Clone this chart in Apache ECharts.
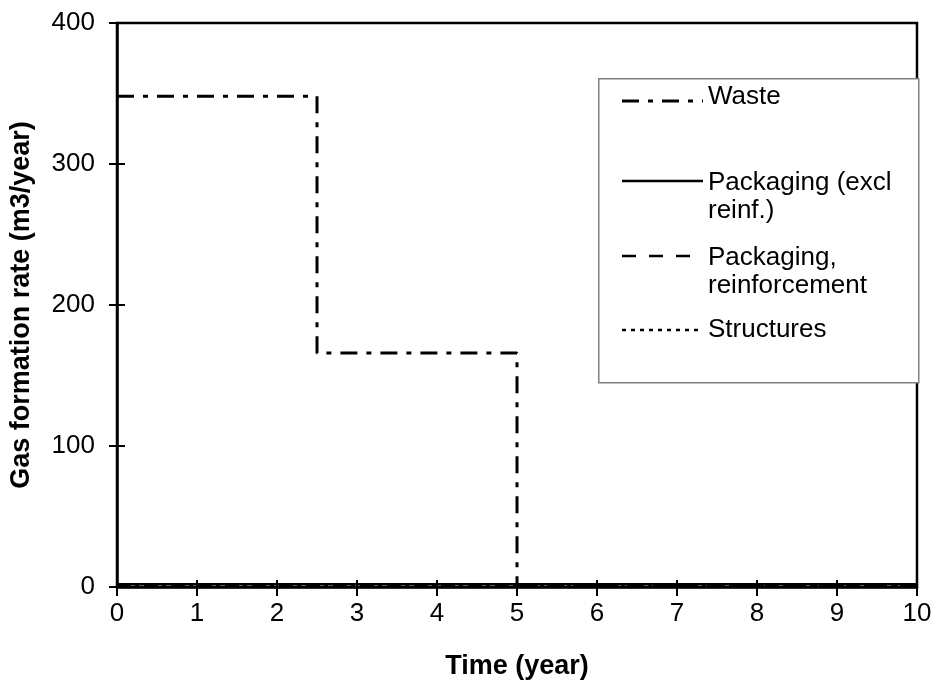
<!DOCTYPE html>
<html>
<head>
<meta charset="utf-8">
<script src="https://cdn.jsdelivr.net/npm/echarts@6/dist/echarts.min.js"></script>
<style>html,body{margin:0;padding:0;background:#fff}#c{width:937px;height:693px}</style>
</head>
<body>
<div id="c"></div>
<script>
// ---- data ----
const xTicks = [0,1,2,3,4,5,6,7,8,9,10];
const yTicks = [0,100,200,300,400];
const wasteTime = [0, 2.5, 5, 10];
const wasteRate = [348, 166, 0.5, 0.5];
const packTime = [0, 10];
const packagingExcl = [2, 2];
const packagingReinf = [1, 1];
const structures = [0.5, 0.5];
const seriesNames = ['Waste', 'Packaging (excl\nreinf.)', 'Packaging,\nreinforcement', 'Structures'];

const FONT = 'Liberation Sans, Arial, sans-serif';
const styles = [
  {width: 3, dash: [17, 9, 5, 9]},
  {width: 2.5, dash: null},
  {width: 2.5, dash: [14, 13]},
  {width: 2.5, dash: [4, 5]}
];
function pairs(xs, ys){ return xs.map((x,i)=>[x, ys[i]]); }
const seriesData = [
  pairs(wasteTime, wasteRate),
  pairs(packTime, packagingExcl),
  pairs(packTime, packagingReinf),
  pairs(packTime, structures)
];

const chart = echarts.init(document.getElementById('c'));

// legend drawn as graphic inside a framed box
const legendY = [[97, 101], [183, 181], [258, 256], [330, 330]];
const legendGraphic = [{
  type: 'rect', left: 598, top: 78, z: 10,
  shape: {width: 320, height: 304},
  style: {fill: '#fff', stroke: '#808080', lineWidth: 1.5}
}];
seriesNames.forEach((n, i) => {
  legendGraphic.push({
    type: 'line', z: 11,
    shape: {x1: 622, y1: legendY[i][1], x2: 703, y2: legendY[i][1]},
    style: {stroke: '#000', lineWidth: styles[i].width, lineDash: styles[i].dash || null}
  });
  legendGraphic.push({
    type: 'text', z: 11, left: 708, top: legendY[i][0] - 14,
    style: {text: n, font: '26px ' + FONT, fill: '#000', lineHeight: 28}
  });
});

chart.setOption({
  animation: false,
  backgroundColor: '#fff',
  grid: {left: 116, right: 20, top: 23, bottom: 106, show: true, borderColor: '#000', borderWidth: 2.5, containLabel: false},
  xAxis: [{
    type: 'value', min: 0, max: 10, interval: 1,
    name: 'Time (year)', nameLocation: 'middle', nameGap: 66,
    nameTextStyle: {fontFamily: FONT, fontSize: 27, fontWeight: 'bold', color: '#000'},
    axisLine: {lineStyle: {color: '#000', width: 2.5}},
    axisTick: {show: true, length: 9, lineStyle: {color: '#000', width: 2}},
    axisLabel: {fontFamily: FONT, fontSize: 26, color: '#000', margin: 14, formatter: v => String(v)},
    splitLine: {show: false}
  }, {
    type: 'value', min: 0, max: 10, interval: 1, position: 'bottom',
    axisLine: {show: false}, axisLabel: {show: false}, splitLine: {show: false},
    axisTick: {show: true, inside: true, length: 7, lineStyle: {color: '#000', width: 2}}
  }],
  yAxis: [{
    type: 'value', min: 0, max: 400, interval: 100,
    name: 'Gas formation rate (m3/year)', nameLocation: 'middle', nameGap: 82,
    nameTextStyle: {fontFamily: FONT, fontSize: 27, fontWeight: 'bold', color: '#000'},
    axisLine: {show: true, lineStyle: {color: '#000', width: 2.5}},
    axisTick: {show: true, length: 8, lineStyle: {color: '#000', width: 2}},
    axisLabel: {fontFamily: FONT, fontSize: 26, color: '#000', margin: 22},
    splitLine: {show: false}
  }, {
    type: 'value', min: 0, max: 400, interval: 100, position: 'left',
    axisLine: {show: false}, axisLabel: {show: false}, splitLine: {show: false},
    axisTick: {show: true, inside: true, length: 8, lineStyle: {color: '#000', width: 2}}
  }],
  series: seriesData.map((d, i) => ({
    name: seriesNames[i], type: 'line', data: d,
    step: i === 0 ? 'end' : false,
    symbol: 'none', z: 3 - i + 2,
    lineStyle: {color: '#000', width: styles[i].width, type: styles[i].dash || 'solid'}
  })),
  graphic: legendGraphic
});
</script>
</body>
</html>
